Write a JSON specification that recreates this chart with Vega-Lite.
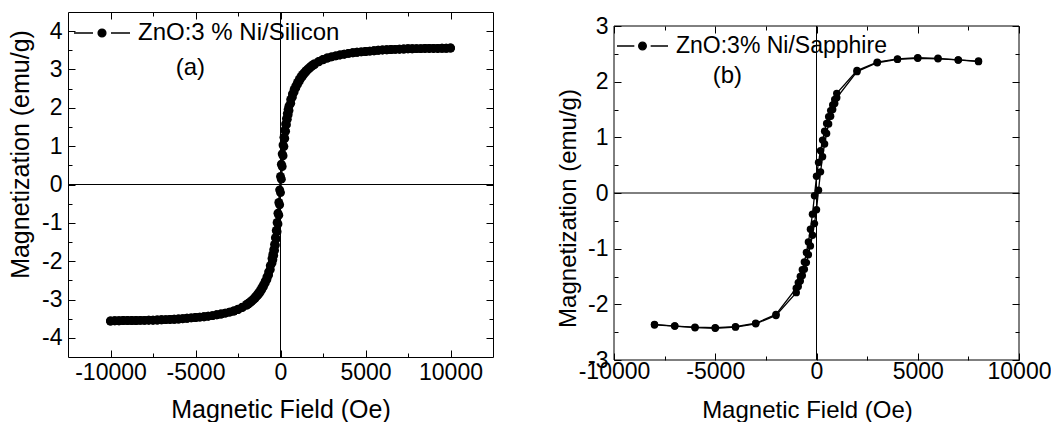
{
"$schema": "https://vega.github.io/schema/vega-lite/v6.json",
"background": "white",
"padding": {"left": 8, "top": 3, "right": 0, "bottom": 0},
"config": {
  "font": "Liberation Sans",
  "view": {"stroke": "black", "strokeWidth": 1},
  "axis": {"domain": false, "grid": false, "labelColor": "black", "tickColor": "black", "titleColor": "black", "titleFontWeight": "normal", "labelFlush": false, "labelOverlap": false, "tickWidth": 1, "labelFont": "Liberation Sans", "titleFont": "Liberation Sans"},
  "legend": {"orient": "none", "padding": 0, "labelColor": "black", "labelFont": "Liberation Sans", "labelLimit": 0, "symbolStrokeWidth": 1.3, "symbolFillColor": "black", "symbolStrokeColor": "black", "labelOffset": 7, "title": null},
  "concat": {"spacing": 62}
},
"resolve": {"scale": {"color": "independent"}, "legend": {"color": "independent"}},
"datasets": {
"si": [
{"b":"u","h":-10000,"m":-3.56},{"b":"u","h":-9750,"m":-3.555},{"b":"u","h":-9500,"m":-3.555},{"b":"u","h":-9250,"m":-3.55},{"b":"u","h":-9000,"m":-3.55},{"b":"u","h":-8750,"m":-3.55},{"b":"u","h":-8500,"m":-3.55},{"b":"u","h":-8250,"m":-3.545},{"b":"u","h":-8000,"m":-3.545},{"b":"u","h":-7750,"m":-3.54},{"b":"u","h":-7500,"m":-3.54},{"b":"u","h":-7250,"m":-3.535},{"b":"u","h":-7000,"m":-3.53},{"b":"u","h":-6750,"m":-3.525},{"b":"u","h":-6500,"m":-3.52},{"b":"u","h":-6250,"m":-3.515},{"b":"u","h":-6000,"m":-3.51},{"b":"u","h":-5750,"m":-3.5},{"b":"u","h":-5500,"m":-3.49},{"b":"u","h":-5250,"m":-3.48},{"b":"u","h":-5000,"m":-3.47},{"b":"u","h":-4750,"m":-3.46},{"b":"u","h":-4500,"m":-3.45},{"b":"u","h":-4250,"m":-3.435},{"b":"u","h":-4000,"m":-3.42},{"b":"u","h":-3750,"m":-3.4},{"b":"u","h":-3500,"m":-3.38},{"b":"u","h":-3250,"m":-3.355},{"b":"u","h":-3000,"m":-3.33},{"b":"u","h":-2750,"m":-3.3},{"b":"u","h":-2500,"m":-3.26},{"b":"u","h":-2250,"m":-3.21},{"b":"u","h":-2000,"m":-3.15},{"b":"u","h":-1900,"m":-3.12},{"b":"u","h":-1800,"m":-3.09},{"b":"u","h":-1700,"m":-3.05},{"b":"u","h":-1600,"m":-3.01},{"b":"u","h":-1500,"m":-2.97},{"b":"u","h":-1400,"m":-2.92},{"b":"u","h":-1300,"m":-2.87},{"b":"u","h":-1200,"m":-2.81},{"b":"u","h":-1100,"m":-2.74},{"b":"u","h":-1000,"m":-2.66},{"b":"u","h":-900,"m":-2.57},{"b":"u","h":-800,"m":-2.48},{"b":"u","h":-700,"m":-2.36},{"b":"u","h":-600,"m":-2.22},{"b":"u","h":-500,"m":-2.05},{"b":"u","h":-450,"m":-1.96},{"b":"u","h":-400,"m":-1.85},{"b":"u","h":-350,"m":-1.72},{"b":"u","h":-300,"m":-1.58},{"b":"u","h":-250,"m":-1.42},{"b":"u","h":-200,"m":-1.23},{"b":"u","h":-150,"m":-1.03},{"b":"u","h":-100,"m":-0.8},{"b":"u","h":-50,"m":-0.53},{"b":"u","h":0,"m":-0.21},{"b":"u","h":50,"m":0.14},{"b":"u","h":100,"m":0.47},{"b":"u","h":150,"m":0.75},{"b":"u","h":200,"m":0.99},{"b":"u","h":250,"m":1.2},{"b":"u","h":300,"m":1.39},{"b":"u","h":350,"m":1.56},{"b":"u","h":400,"m":1.7},{"b":"u","h":450,"m":1.82},{"b":"u","h":500,"m":1.93},{"b":"u","h":600,"m":2.12},{"b":"u","h":700,"m":2.28},{"b":"u","h":800,"m":2.41},{"b":"u","h":900,"m":2.52},{"b":"u","h":1000,"m":2.61},{"b":"u","h":1100,"m":2.69},{"b":"u","h":1200,"m":2.77},{"b":"u","h":1300,"m":2.83},{"b":"u","h":1400,"m":2.89},{"b":"u","h":1500,"m":2.94},{"b":"u","h":1600,"m":2.99},{"b":"u","h":1700,"m":3.03},{"b":"u","h":1800,"m":3.07},{"b":"u","h":1900,"m":3.1},{"b":"u","h":2000,"m":3.13},{"b":"u","h":2250,"m":3.2},{"b":"u","h":2500,"m":3.255},{"b":"u","h":2750,"m":3.3},{"b":"u","h":3000,"m":3.33},{"b":"u","h":3250,"m":3.355},{"b":"u","h":3500,"m":3.38},{"b":"u","h":3750,"m":3.4},{"b":"u","h":4000,"m":3.42},{"b":"u","h":4250,"m":3.435},{"b":"u","h":4500,"m":3.45},{"b":"u","h":4750,"m":3.46},{"b":"u","h":5000,"m":3.47},{"b":"u","h":5250,"m":3.48},{"b":"u","h":5500,"m":3.49},{"b":"u","h":5750,"m":3.5},{"b":"u","h":6000,"m":3.51},{"b":"u","h":6250,"m":3.515},{"b":"u","h":6500,"m":3.52},{"b":"u","h":6750,"m":3.525},{"b":"u","h":7000,"m":3.53},{"b":"u","h":7250,"m":3.535},{"b":"u","h":7500,"m":3.54},{"b":"u","h":7750,"m":3.54},{"b":"u","h":8000,"m":3.545},{"b":"u","h":8250,"m":3.545},{"b":"u","h":8500,"m":3.55},{"b":"u","h":8750,"m":3.55},{"b":"u","h":9000,"m":3.55},{"b":"u","h":9250,"m":3.55},{"b":"u","h":9500,"m":3.555},{"b":"u","h":9750,"m":3.555},{"b":"u","h":10000,"m":3.56},
{"b":"d","h":10000,"m":3.56},{"b":"d","h":9750,"m":3.555},{"b":"d","h":9500,"m":3.555},{"b":"d","h":9250,"m":3.55},{"b":"d","h":9000,"m":3.55},{"b":"d","h":8750,"m":3.55},{"b":"d","h":8500,"m":3.55},{"b":"d","h":8250,"m":3.545},{"b":"d","h":8000,"m":3.545},{"b":"d","h":7750,"m":3.54},{"b":"d","h":7500,"m":3.54},{"b":"d","h":7250,"m":3.535},{"b":"d","h":7000,"m":3.53},{"b":"d","h":6750,"m":3.525},{"b":"d","h":6500,"m":3.52},{"b":"d","h":6250,"m":3.515},{"b":"d","h":6000,"m":3.51},{"b":"d","h":5750,"m":3.5},{"b":"d","h":5500,"m":3.49},{"b":"d","h":5250,"m":3.48},{"b":"d","h":5000,"m":3.47},{"b":"d","h":4750,"m":3.46},{"b":"d","h":4500,"m":3.45},{"b":"d","h":4250,"m":3.435},{"b":"d","h":4000,"m":3.42},{"b":"d","h":3750,"m":3.4},{"b":"d","h":3500,"m":3.38},{"b":"d","h":3250,"m":3.355},{"b":"d","h":3000,"m":3.33},{"b":"d","h":2750,"m":3.3},{"b":"d","h":2500,"m":3.26},{"b":"d","h":2250,"m":3.21},{"b":"d","h":2000,"m":3.15},{"b":"d","h":1900,"m":3.12},{"b":"d","h":1800,"m":3.09},{"b":"d","h":1700,"m":3.05},{"b":"d","h":1600,"m":3.01},{"b":"d","h":1500,"m":2.97},{"b":"d","h":1400,"m":2.92},{"b":"d","h":1300,"m":2.87},{"b":"d","h":1200,"m":2.81},{"b":"d","h":1100,"m":2.74},{"b":"d","h":1000,"m":2.66},{"b":"d","h":900,"m":2.57},{"b":"d","h":800,"m":2.48},{"b":"d","h":700,"m":2.36},{"b":"d","h":600,"m":2.22},{"b":"d","h":500,"m":2.05},{"b":"d","h":450,"m":1.96},{"b":"d","h":400,"m":1.85},{"b":"d","h":350,"m":1.72},{"b":"d","h":300,"m":1.58},{"b":"d","h":250,"m":1.42},{"b":"d","h":200,"m":1.23},{"b":"d","h":150,"m":1.03},{"b":"d","h":100,"m":0.8},{"b":"d","h":50,"m":0.53},{"b":"d","h":0,"m":0.21},{"b":"d","h":-50,"m":-0.14},{"b":"d","h":-100,"m":-0.47},{"b":"d","h":-150,"m":-0.75},{"b":"d","h":-200,"m":-0.99},{"b":"d","h":-250,"m":-1.2},{"b":"d","h":-300,"m":-1.39},{"b":"d","h":-350,"m":-1.56},{"b":"d","h":-400,"m":-1.7},{"b":"d","h":-450,"m":-1.82},{"b":"d","h":-500,"m":-1.93},{"b":"d","h":-600,"m":-2.12},{"b":"d","h":-700,"m":-2.28},{"b":"d","h":-800,"m":-2.41},{"b":"d","h":-900,"m":-2.52},{"b":"d","h":-1000,"m":-2.61},{"b":"d","h":-1100,"m":-2.69},{"b":"d","h":-1200,"m":-2.77},{"b":"d","h":-1300,"m":-2.83},{"b":"d","h":-1400,"m":-2.89},{"b":"d","h":-1500,"m":-2.94},{"b":"d","h":-1600,"m":-2.99},{"b":"d","h":-1700,"m":-3.03},{"b":"d","h":-1800,"m":-3.07},{"b":"d","h":-1900,"m":-3.1},{"b":"d","h":-2000,"m":-3.13},{"b":"d","h":-2250,"m":-3.2},{"b":"d","h":-2500,"m":-3.255},{"b":"d","h":-2750,"m":-3.3},{"b":"d","h":-3000,"m":-3.33},{"b":"d","h":-3250,"m":-3.355},{"b":"d","h":-3500,"m":-3.38},{"b":"d","h":-3750,"m":-3.4},{"b":"d","h":-4000,"m":-3.42},{"b":"d","h":-4250,"m":-3.435},{"b":"d","h":-4500,"m":-3.45},{"b":"d","h":-4750,"m":-3.46},{"b":"d","h":-5000,"m":-3.47},{"b":"d","h":-5250,"m":-3.48},{"b":"d","h":-5500,"m":-3.49},{"b":"d","h":-5750,"m":-3.5},{"b":"d","h":-6000,"m":-3.51},{"b":"d","h":-6250,"m":-3.515},{"b":"d","h":-6500,"m":-3.52},{"b":"d","h":-6750,"m":-3.525},{"b":"d","h":-7000,"m":-3.53},{"b":"d","h":-7250,"m":-3.535},{"b":"d","h":-7500,"m":-3.54},{"b":"d","h":-7750,"m":-3.54},{"b":"d","h":-8000,"m":-3.545},{"b":"d","h":-8250,"m":-3.545},{"b":"d","h":-8500,"m":-3.55},{"b":"d","h":-8750,"m":-3.55},{"b":"d","h":-9000,"m":-3.55},{"b":"d","h":-9250,"m":-3.55},{"b":"d","h":-9500,"m":-3.555},{"b":"d","h":-9750,"m":-3.555},{"b":"d","h":-10000,"m":-3.56}
],
"sa": [
{"b":"u","h":-8000,"m":-2.36},{"b":"u","h":-7000,"m":-2.39},{"b":"u","h":-6000,"m":-2.42},{"b":"u","h":-5000,"m":-2.43},{"b":"u","h":-4000,"m":-2.41},{"b":"u","h":-3000,"m":-2.35},{"b":"u","h":-2000,"m":-2.2},{"b":"u","h":-1000,"m":-1.79},{"b":"u","h":-900,"m":-1.68},{"b":"u","h":-800,"m":-1.58},{"b":"u","h":-700,"m":-1.48},{"b":"u","h":-600,"m":-1.37},{"b":"u","h":-500,"m":-1.25},{"b":"u","h":-400,"m":-1.11},{"b":"u","h":-300,"m":-0.95},{"b":"u","h":-200,"m":-0.76},{"b":"u","h":-100,"m":-0.55},{"b":"u","h":0,"m":-0.3},{"b":"u","h":100,"m":0.05},{"b":"u","h":200,"m":0.38},{"b":"u","h":300,"m":0.65},{"b":"u","h":400,"m":0.88},{"b":"u","h":500,"m":1.07},{"b":"u","h":600,"m":1.24},{"b":"u","h":700,"m":1.38},{"b":"u","h":800,"m":1.5},{"b":"u","h":900,"m":1.61},{"b":"u","h":1000,"m":1.71},{"b":"u","h":2000,"m":2.18},{"b":"u","h":3000,"m":2.34},{"b":"u","h":4000,"m":2.4},{"b":"u","h":5000,"m":2.42},{"b":"u","h":6000,"m":2.41},{"b":"u","h":7000,"m":2.39},{"b":"u","h":8000,"m":2.37},
{"b":"d","h":8000,"m":2.36},{"b":"d","h":7000,"m":2.39},{"b":"d","h":6000,"m":2.42},{"b":"d","h":5000,"m":2.43},{"b":"d","h":4000,"m":2.41},{"b":"d","h":3000,"m":2.35},{"b":"d","h":2000,"m":2.2},{"b":"d","h":1000,"m":1.79},{"b":"d","h":900,"m":1.68},{"b":"d","h":800,"m":1.58},{"b":"d","h":700,"m":1.48},{"b":"d","h":600,"m":1.37},{"b":"d","h":500,"m":1.25},{"b":"d","h":400,"m":1.11},{"b":"d","h":300,"m":0.95},{"b":"d","h":200,"m":0.76},{"b":"d","h":100,"m":0.55},{"b":"d","h":0,"m":0.3},{"b":"d","h":-100,"m":-0.05},{"b":"d","h":-200,"m":-0.38},{"b":"d","h":-300,"m":-0.65},{"b":"d","h":-400,"m":-0.88},{"b":"d","h":-500,"m":-1.07},{"b":"d","h":-600,"m":-1.24},{"b":"d","h":-700,"m":-1.38},{"b":"d","h":-800,"m":-1.5},{"b":"d","h":-900,"m":-1.61},{"b":"d","h":-1000,"m":-1.71},{"b":"d","h":-2000,"m":-2.18},{"b":"d","h":-3000,"m":-2.34},{"b":"d","h":-4000,"m":-2.4},{"b":"d","h":-5000,"m":-2.42},{"b":"d","h":-6000,"m":-2.41},{"b":"d","h":-7000,"m":-2.39},{"b":"d","h":-8000,"m":-2.37}
]
},
"hconcat": [
{
  "width": 425, "height": 345,
  "layer": [
    {"data": {"values": [{}]}, "mark": {"type": "rule", "color": "black", "strokeWidth": 1}, "encoding": {"y": {"datum": 0, "type": "quantitative", "axis": null}}},
    {"data": {"values": [{}]}, "mark": {"type": "rule", "color": "black", "strokeWidth": 1}, "encoding": {"x": {"datum": 0, "type": "quantitative", "axis": null}}},
    {"data": {"name": "si"}, "mark": {"type": "line", "color": "black", "strokeWidth": 1.5},
     "encoding": {
      "x": {"field": "h", "type": "quantitative", "scale": {"domain": [-12500, 12500], "nice": false, "zero": false},
            "axis": {"orient": "bottom", "title": "Magnetic Field (Oe)", "values": [-10000,-7500,-5000,-2500,0,2500,5000,7500,10000],
                     "labelExpr": "datum.value % 5000 === 0 ? '' + datum.value : ''",
                     "tickSize": {"condition": {"test": "datum.value % 5000 === 0", "value": -7}, "value": -4},
                     "labelFontSize": 23, "titleFontSize": 25, "labelPadding": 11, "titlePadding": 10}},
      "y": {"field": "m", "type": "quantitative", "scale": {"domain": [-4.5, 4.5], "nice": false, "zero": false},
            "axis": {"orient": "left", "title": "Magnetization (emu/g)", "titleY": 142, "values": [-4,-3.5,-3,-2.5,-2,-1.5,-1,-0.5,0,0.5,1,1.5,2,2.5,3,3.5,4],
                     "labelExpr": "datum.value % 1 === 0 ? '' + datum.value : ''",
                     "tickSize": {"condition": {"test": "datum.value % 1 === 0", "value": -7}, "value": -4},
                     "labelFontSize": 23, "titleFontSize": 25, "labelPadding": 13, "titlePadding": 8}},
      "detail": {"field": "b"}
     }},
    {"data": {"name": "si"}, "mark": {"type": "point", "filled": true, "size": 80, "opacity": 1},
     "encoding": {
      "x": {"field": "h", "type": "quantitative",
            "axis": {"orient": "top", "labels": false, "title": null, "values": [-10000,-7500,-5000,-2500,0,2500,5000,7500,10000],
                     "tickSize": {"condition": {"test": "datum.value % 5000 === 0", "value": -7}, "value": -4}}},
      "y": {"field": "m", "type": "quantitative",
            "axis": {"orient": "right", "labels": false, "title": null, "values": [-4,-3.5,-3,-2.5,-2,-1.5,-1,-0.5,0,0.5,1,1.5,2,2.5,3,3.5,4],
                     "tickSize": {"condition": {"test": "datum.value % 1 === 0", "value": -7}, "value": -4}}},
      "color": {"datum": "ZnO:3 % Ni/Silicon", "scale": {"range": ["black"]},
                "legend": {"legendX": 5, "legendY": -8, "labelFontSize": 24, "symbolSize": 3136,
                           "symbolType": "M-1,0H-0.32M0.32,0H1M0.14,0A0.14,0.14,0,1,1,-0.14,0A0.14,0.14,0,1,1,0.14,0Z",
                           "encode": {"symbols": {"update": {"fill": {"value": "black"}, "stroke": {"value": "black"}, "opacity": {"value": 1}}}}}}
     }},
    {"data": {"values": [{}]}, "mark": {"type": "text", "text": "(a)", "fontSize": 24, "color": "black", "font": "Liberation Sans"},
     "encoding": {"x": {"datum": -5300, "type": "quantitative", "axis": null}, "y": {"datum": 3.05, "type": "quantitative", "axis": null}}}
  ]
},
{
  "width": 405, "height": 348,
  "view": {"stroke": null},
  "layer": [
    {"data": {"values": [{}]}, "mark": {"type": "rect", "filled": false, "color": "black", "strokeWidth": 1},
     "encoding": {"x": {"datum": -10000, "type": "quantitative", "axis": null}, "x2": {"datum": 10000}, "y": {"datum": -3, "type": "quantitative", "axis": null}, "y2": {"datum": 3}}},
    {"data": {"values": [{}]}, "mark": {"type": "rule", "color": "black", "strokeWidth": 1}, "encoding": {"y": {"datum": 0, "type": "quantitative", "axis": null}}},
    {"data": {"values": [{}]}, "mark": {"type": "rule", "color": "black", "strokeWidth": 1}, "encoding": {"x": {"datum": 0, "type": "quantitative", "axis": null}, "y": {"datum": -3, "type": "quantitative", "axis": null}, "y2": {"datum": 3}}},
    {"data": {"name": "sa"}, "mark": {"type": "line", "color": "black", "strokeWidth": 1.3},
     "encoding": {
      "x": {"field": "h", "type": "quantitative", "scale": {"domain": [-10000, 10000], "nice": false, "zero": false},
            "axis": {"orient": "bottom", "title": "Magnetic Field (Oe)", "titleX": 193, "values": [-10000,-7500,-5000,-2500,0,2500,5000,7500,10000],
                     "labelExpr": "datum.value % 5000 === 0 ? '' + datum.value : ''",
                     "tickSize": {"condition": {"test": "datum.value % 5000 === 0", "value": -7}, "value": -4},
                     "labelFontSize": 23, "titleFontSize": 24, "labelPadding": 7, "titlePadding": 12}},
      "y": {"field": "m", "type": "quantitative", "scale": {"domain": [-3, 3.2515], "nice": false, "zero": false},
            "axis": {"orient": "left", "title": "Magnetization (emu/g)", "titleY": 196, "values": [-3,-2.5,-2,-1.5,-1,-0.5,0,0.5,1,1.5,2,2.5,3],
                     "labelExpr": "datum.value % 1 === 0 ? '' + datum.value : ''",
                     "tickSize": {"condition": {"test": "datum.value % 1 === 0", "value": -7}, "value": -4},
                     "labelFontSize": 23, "titleFontSize": 24, "labelPadding": 13, "titlePadding": 7}},
      "detail": {"field": "b"}
     }},
    {"data": {"name": "sa"}, "mark": {"type": "point", "filled": true, "size": 55, "opacity": 1},
     "encoding": {
      "x": {"field": "h", "type": "quantitative",
            "axis": {"orient": "top", "labels": false, "title": null, "offset": -14, "values": [-10000,-7500,-5000,-2500,0,2500,5000,7500,10000],
                     "tickSize": {"condition": {"test": "datum.value % 5000 === 0", "value": -7}, "value": -4}}},
      "y": {"field": "m", "type": "quantitative",
            "axis": {"orient": "right", "labels": false, "title": null, "values": [-3,-2.5,-2,-1.5,-1,-0.5,0,0.5,1,1.5,2,2.5,3],
                     "tickSize": {"condition": {"test": "datum.value % 1 === 0", "value": -7}, "value": -4}}},
      "color": {"datum": "ZnO:3% Ni/Sapphire", "scale": {"range": ["black"]},
                "legend": {"legendX": 2, "legendY": 7.5, "labelFontSize": 23, "symbolSize": 2601,
                           "symbolType": "M-1,0H-0.32M0.32,0H1M0.15,0A0.15,0.15,0,1,1,-0.15,0A0.15,0.15,0,1,1,0.15,0Z",
                           "encode": {"symbols": {"update": {"fill": {"value": "black"}, "stroke": {"value": "black"}, "opacity": {"value": 1}}}}}}
     }},
    {"data": {"values": [{}]}, "mark": {"type": "text", "text": "(b)", "fontSize": 24, "color": "black", "font": "Liberation Sans"},
     "encoding": {"x": {"datum": -4400, "type": "quantitative", "axis": null}, "y": {"datum": 2.1, "type": "quantitative", "axis": null}}}
  ]
}
]
}
